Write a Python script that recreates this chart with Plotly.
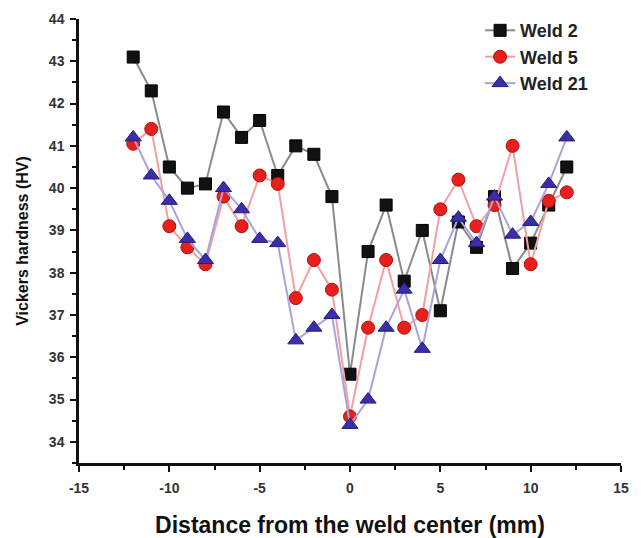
import plotly.graph_objects as go

distance = [-12, -11, -10, -9, -8, -7, -6, -5, -4, -3, -2, -1, 0, 1, 2, 3, 4, 5, 6, 7, 8, 9, 10, 11, 12]
weld2 = [43.1, 42.3, 40.5, 40.0, 40.1, 41.8, 41.2, 41.6, 40.3, 41.0, 40.8, 39.8, 35.6,
         38.5, 39.6, 37.8, 39.0, 37.1, 39.2, 38.6, 39.8, 38.1, 38.7, 39.6, 40.5]
weld5 = [41.05, 41.4, 39.1, 38.6, 38.2, 39.8, 39.1, 40.3, 40.1, 37.4, 38.3, 37.6, 34.6,
         36.7, 38.3, 36.7, 37.0, 39.5, 40.2, 39.1, 39.6, 41.0, 38.2, 39.7, 39.9]
weld21 = [41.2, 40.3, 39.7, 38.8, 38.3, 40.0, 39.5, 38.8, 38.7, 36.4, 36.7, 37.0, 34.4,
          35.0, 36.7, 37.6, 36.2, 38.3, 39.3, 38.7, 39.8, 38.9, 39.2, 40.1, 41.2]

x_ticks = [-15, -10, -5, 0, 5, 10, 15]
x_minor = [-12.5, -7.5, -2.5, 2.5, 7.5, 12.5]
y_ticks = [34, 35, 36, 37, 38, 39, 40, 41, 42, 43, 44]
y_minor = [33.5, 34.5, 35.5, 36.5, 37.5, 38.5, 39.5, 40.5, 41.5, 42.5, 43.5]
x_range = [-15, 15]
y_range = [33.5, 44]

FONT = "Liberation Sans, Arial, sans-serif"

fig = go.Figure()
fig.add_trace(go.Scatter(
    x=distance, y=weld2, name="Weld 2", mode="lines+markers",
    line=dict(color="#8a8a8a", width=2),
    marker=dict(symbol="square", size=12, color="#111111", line=dict(color="#000000", width=1)),
))
fig.add_trace(go.Scatter(
    x=distance, y=weld5, name="Weld 5", mode="lines+markers",
    line=dict(color="#f2a0a0", width=2),
    marker=dict(symbol="circle", size=13, color="#e8201c", line=dict(color="#b01010", width=1)),
))
fig.add_trace(go.Scatter(
    x=distance, y=weld21, name="Weld 21", mode="lines+markers",
    line=dict(color="#a8a4dc", width=2),
    marker=dict(symbol="triangle-up", size=14, color="#3a2fa8", line=dict(color="#231a80", width=1)),
))

axis_common = dict(
    automargin=False,
    showline=True, linecolor="#111111", linewidth=2.5, mirror=False,
    showgrid=False, zeroline=False,
    ticks="outside", ticklen=6, tickwidth=2, tickcolor="#111111",
    tickfont=dict(family=FONT, size=14, color="#333333", weight="bold"),
)
minor_common = dict(ticks="outside", ticklen=4, tickwidth=2, tickcolor="#111111", showgrid=False)

fig.update_layout(
    width=642, height=538,
    margin=dict(l=79, r=21, t=19, b=75),
    paper_bgcolor="white", plot_bgcolor="white",
    showlegend=True,
    legend=dict(
        x=0.74, y=1.0155, xanchor="left", yanchor="top",
        font=dict(family=FONT, size=18, color="#222222", weight="bold"),
        bgcolor="rgba(0,0,0,0)",
    ),
    xaxis=dict(
        range=x_range, tickmode="array", tickvals=x_ticks, ticktext=[str(v) for v in x_ticks],
        ticklabelstandoff=4,
        minor=dict(tickmode="array", tickvals=x_minor, **minor_common),
        title=dict(text="Distance from the weld center (mm)", standoff=26,
                   font=dict(family=FONT, size=23, color="#111111", weight="bold")),
        **axis_common,
    ),
    yaxis=dict(
        range=y_range, tickmode="array", tickvals=y_ticks, ticktext=[str(v) for v in y_ticks],
        ticklabelstandoff=3,
        minor=dict(tickmode="array", tickvals=y_minor, **minor_common),
        title=dict(text="Vickers hardness (HV)", standoff=17,
                   font=dict(family=FONT, size=16, color="#111111", weight="bold")),
        **axis_common,
    ),
)

fig.write_html("out.html")
